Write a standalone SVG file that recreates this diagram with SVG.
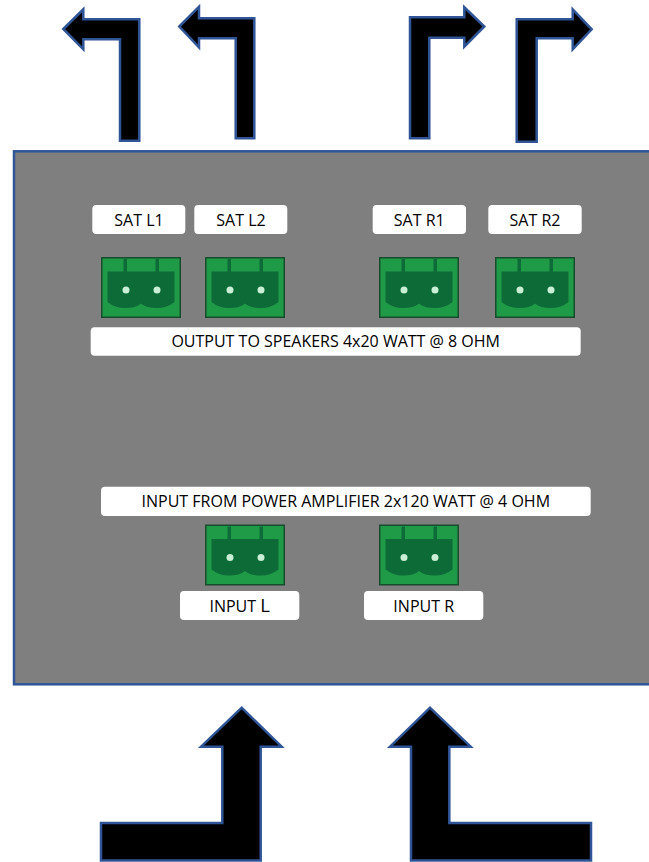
<svg xmlns="http://www.w3.org/2000/svg" xmlns:xlink="http://www.w3.org/1999/xlink" width="649" height="862" viewBox="0 0 649 862">
<style>
.arrow{fill:#000;stroke:#2F5597;stroke-width:2.5;stroke-linejoin:miter}
.panel{fill:#7f7f7f;stroke:#2F5597;stroke-width:2.5}
.lbl{fill:#fff;stroke:none}
.t{font-family:"Open Sans","Liberation Sans",sans-serif;font-size:16px;fill:#000;text-anchor:middle}
</style>
<defs>
<g id="term">
<rect x="0.75" y="0.75" width="78.5" height="59.5" fill="#1f9b48" stroke="#174d2c" stroke-width="1.5"/>
<path d="M6.5,14.5 H73.5 V45 Q66,51 56,51 Q45,51 40,46.5 Q35,51 24,51 Q14,51 6.5,45 Z" fill="#0d6b37"/>
<rect x="22.5" y="2" width="3.5" height="13" fill="#0d6b37"/>
<rect x="54.5" y="2" width="3.5" height="13" fill="#0d6b37"/>
<circle cx="25" cy="33" r="3.5" fill="#c9efd4"/>
<circle cx="56" cy="33" r="3.5" fill="#c9efd4"/>
</g>
</defs>
<rect width="649" height="862" fill="#fff"/>
<rect id="panel" class="panel" x="14" y="151.3" width="700" height="533"/>
<g id="connectors">
<polygon id="arrow-out-l1" class="arrow" points="63.3,29 83.3,9.3 83.3,19.3 139.3,19.3 139.3,140.7 120,140.7 120,39.3 83.3,39.3 83.3,49.3"/>
<polygon id="arrow-out-l2" class="arrow" points="179.3,26.5 199,6.7 199,18.3 254.3,18.3 254.3,138.3 235.7,138.3 235.7,38.3 199,38.3 199,47.3"/>
<polygon id="arrow-out-r1" class="arrow" points="410,138.3 410,17.3 464.3,17.3 464.3,7.3 484.3,26.5 464.3,46.7 464.3,37.7 429.3,37.7 429.3,138.3"/>
<polygon id="arrow-out-r2" class="arrow" points="516.7,141.7 516.7,19.3 572.7,19.3 572.7,9.3 591.7,29.3 572.7,49.3 572.7,38.3 536.7,38.3 536.7,141.7"/>
<polygon id="arrow-in-l" class="arrow" points="101,823 222.3,823 222.3,746.7 201,746.7 241.7,707.7 281.7,746.7 260.7,746.7 260.7,860.5 101,860.5"/>
<polygon id="arrow-in-r" class="arrow" points="411,860.5 411,746.7 390,746.7 430,707.7 470.7,746.7 449.3,746.7 449.3,823 591,823 591,860.5"/>
</g>
<g id="sat-l1">
<rect class="lbl" x="92.3" y="205" width="93" height="29" rx="4"/>
<text class="t" x="139" y="225.5">SAT L1</text>
<use xlink:href="#term" x="101" y="257"/>
</g>
<g id="sat-l2">
<rect class="lbl" x="194.3" y="205" width="93" height="29" rx="4"/>
<text class="t" x="241" y="225.5">SAT L2</text>
<use xlink:href="#term" x="205" y="257"/>
</g>
<g id="sat-r1">
<rect class="lbl" x="372.7" y="205" width="93.3" height="29" rx="4"/>
<text class="t" x="419.3" y="225.5">SAT R1</text>
<use xlink:href="#term" x="379" y="257"/>
</g>
<g id="sat-r2">
<rect class="lbl" x="488.3" y="205" width="93.4" height="29" rx="4"/>
<text class="t" x="535" y="225.5">SAT R2</text>
<use xlink:href="#term" x="495" y="257"/>
</g>
<g id="output-label">
<rect class="lbl" x="90.7" y="327.3" width="490" height="28.4" rx="4"/>
<text class="t" x="335.7" y="347.3">OUTPUT TO SPEAKERS 4x20 WATT @ 8 OHM</text>
</g>
<g id="input-label">
<rect class="lbl" x="101" y="486.7" width="489.7" height="29.3" rx="4"/>
<text class="t" x="345.8" y="507.3">INPUT FROM POWER AMPLIFIER 2x120 WATT @ 4 OHM</text>
</g>
<g id="input-l">
<use xlink:href="#term" x="205" y="524.5"/>
<rect class="lbl" x="180" y="591" width="119.3" height="29" rx="4"/>
<text class="t" x="239.7" y="611.5">INPUT <tspan font-size="18.5">L</tspan></text>
</g>
<g id="input-r">
<use xlink:href="#term" x="379" y="524.5"/>
<rect class="lbl" x="364" y="591" width="119.3" height="29" rx="4"/>
<text class="t" x="423.7" y="611.5">INPUT R</text>
</g>
</svg>
